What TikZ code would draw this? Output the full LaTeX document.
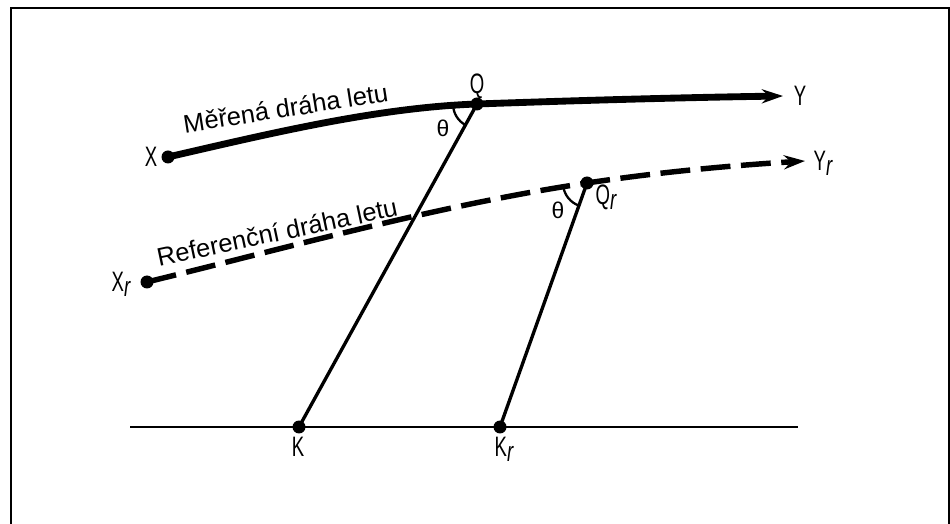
\documentclass[tikz,border=0pt]{standalone}
\usepackage{fontspec}
\setmainfont{Liberation Sans}
\usetikzlibrary{arrows.meta}
\begin{document}
\begin{tikzpicture}[x=0.02cm,y=0.02cm,
  dot/.style={circle,fill=black,inner sep=0pt,minimum size=0.26cm},
  measured/.style={line width=3.9pt,-{Stealth[length=12pt,width=8pt,inset=4pt]}},
  reference/.style={line width=3.1pt,dash pattern=on 17pt off 6pt,-{Stealth[length=12pt,width=8pt,inset=4pt]}},
  ray/.style={line width=1.9pt},
  ground/.style={line width=1.6pt},
  anglearc/.style={line width=1.3pt},
  ptlabel/.style={inner sep=0pt,font=\fontsize{16}{18}\selectfont,xscale=0.66},
  pathlabel/.style={inner sep=0pt,font=\fontsize{14.5}{16}\selectfont,anchor=base},
  thetalabel/.style={inner sep=0pt,font=\fontsize{13}{15}\selectfont}]
\useasboundingbox (0,0) rectangle (950,524);
% frame
\draw[line width=1.6pt] (11,0) -- (11,516) -- (949,516) -- (949,0);
% points
\node[dot] (X) at (168,367) {};
\node[dot] (Q) at (477,420) {};
\coordinate (Yt) at (783,428);
\node[dot] (Xr) at (147,242) {};
\node[dot] (Qr) at (587,341) {};
\coordinate (Yrt) at (805,363);
\node[dot] (K) at (299,97) {};
\node[dot] (Kr) at (500,97) {};
\coordinate (G1) at (130,97);
\coordinate (G2) at (798,97);
% ground line
\draw[ground] (G1) -- (G2);
% rays
\draw[ray] (Q.center) -- (K.center);
\draw[ray] (Qr.center) -- (Kr.center);
% measured path
\draw[measured] (X.center) .. controls (268,390) and (377,416.5) .. (Q.center)
  .. controls (577,423.5) and (682,426.5) .. (Yt);
% reference path
\draw[reference] (Xr.center) .. controls (294,278) and (440,319) .. (Qr.center)
  .. controls (660,352) and (732,358.6) .. (Yrt);
% angle arcs
\draw[anglearc] ([shift={(182:24)}]Q.center) arc[start angle=182,end angle=241,radius=24];
\draw[anglearc] ([shift={(188:24)}]Qr.center) arc[start angle=188,end angle=250,radius=24];
% labels
\node[ptlabel] (lX) at (151,367) {X};
\node[ptlabel] (lQ) at (477,438) {Q};
\node[ptlabel] (lY) at (800,428) {Y};
\node[ptlabel] (lXr) at (121,240) {X\raisebox{-0.35ex}{\itshape r}};
\node[ptlabel] (lQr) at (606,327) {Q\raisebox{-0.35ex}{\itshape r}};
\node[ptlabel] (lYr) at (823,361) {Y\raisebox{-0.35ex}{\itshape r}};
\node[ptlabel] (lK) at (298,77) {K};
\node[ptlabel] (lKr) at (504,75) {K\raisebox{-0.35ex}{\itshape r}};
\node[thetalabel] (t1) at (443,396) {θ};
\node[thetalabel] (t2) at (558,314) {θ};
\node[pathlabel,rotate=9] (mp) at (287,407) {Měřená dráha letu};
\node[pathlabel,rotate=12] (rp) at (279,283) {Referenční dráha letu};
\end{tikzpicture}
\end{document}
